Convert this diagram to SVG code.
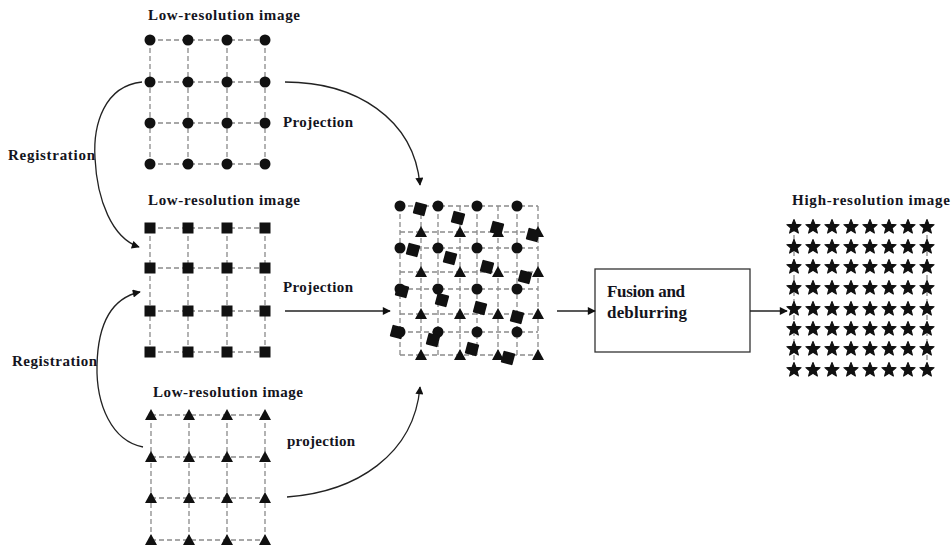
<svg xmlns="http://www.w3.org/2000/svg" xmlns:xlink="http://www.w3.org/1999/xlink" width="952" height="552" viewBox="0 0 952 552">
<style>
.t{font-family:"Liberation Serif","Times New Roman",serif;font-weight:bold;fill:#141420;}
.g{stroke:#8a8a8a;stroke-width:1.3;stroke-dasharray:5 3;fill:none;}
.c{stroke:#222;stroke-width:1.3;fill:none;}
.k{fill:#111;}
</style>
<defs>
<marker id="ah" viewBox="0 0 10 10" refX="9" refY="5" markerWidth="11" markerHeight="8" markerUnits="userSpaceOnUse" orient="auto"><path d="M0,0 L10,5 L0,10 Z" fill="#111"/></marker>
<circle id="dot" r="5.5" class="k"/>
<rect id="sq" x="-5.5" y="-5.5" width="11" height="11" class="k"/>
<rect id="rsq" x="-6" y="-6" width="12" height="12" rx="1" class="k" transform="rotate(15)"/>
<path id="tri" d="M0,-6 L6,5 L-6,5 Z" class="k"/>
<path id="star" d="M0,-7.5 L1.94,-2.67 L7.13,-2.32 L3.14,1.02 L4.41,6.07 L0,3.3 L-4.41,6.07 L-3.14,1.02 L-7.13,-2.32 L-1.94,-2.67 Z" fill="#111" stroke="#111" stroke-width="1.1" stroke-linejoin="round"/>
</defs>
<rect width="952" height="552" fill="#fff"/>

<g id="lr1">
<text class="t" x="224" y="20" font-size="15" text-anchor="middle" textLength="152">Low-resolution image</text>
<path class="g" d="M150,40H265M150,82H265M150,123H265M150,164H265M150,40V164M188,40V164M227,40V164M265,40V164"/>
<use xlink:href="#dot" x="150" y="40"/><use xlink:href="#dot" x="188" y="40"/><use xlink:href="#dot" x="227" y="40"/><use xlink:href="#dot" x="265" y="40"/>
<use xlink:href="#dot" x="150" y="82"/><use xlink:href="#dot" x="188" y="82"/><use xlink:href="#dot" x="227" y="82"/><use xlink:href="#dot" x="265" y="82"/>
<use xlink:href="#dot" x="150" y="123"/><use xlink:href="#dot" x="188" y="123"/><use xlink:href="#dot" x="227" y="123"/><use xlink:href="#dot" x="265" y="123"/>
<use xlink:href="#dot" x="150" y="164"/><use xlink:href="#dot" x="188" y="164"/><use xlink:href="#dot" x="227" y="164"/><use xlink:href="#dot" x="265" y="164"/>
</g>

<g id="lr2">
<text class="t" x="224" y="205" font-size="15" text-anchor="middle" textLength="152">Low-resolution image</text>
<path class="g" d="M150,228H265M150,268H265M150,311H265M150,352H265M150,228V352M188,228V352M227,228V352M265,228V352"/>
<use xlink:href="#sq" x="150" y="228"/><use xlink:href="#sq" x="188" y="228"/><use xlink:href="#sq" x="227" y="228"/><use xlink:href="#sq" x="265" y="228"/>
<use xlink:href="#sq" x="150" y="268"/><use xlink:href="#sq" x="188" y="268"/><use xlink:href="#sq" x="227" y="268"/><use xlink:href="#sq" x="265" y="268"/>
<use xlink:href="#sq" x="150" y="311"/><use xlink:href="#sq" x="188" y="311"/><use xlink:href="#sq" x="227" y="311"/><use xlink:href="#sq" x="265" y="311"/>
<use xlink:href="#sq" x="150" y="352"/><use xlink:href="#sq" x="188" y="352"/><use xlink:href="#sq" x="227" y="352"/><use xlink:href="#sq" x="265" y="352"/>
</g>

<g id="lr3">
<text class="t" x="228" y="397" font-size="15" text-anchor="middle" textLength="150">Low-resolution image</text>
<path class="g" d="M151,415H265M151,457H265M151,498H265M151,540H265M151,415V540M189,415V540M227,415V540M265,415V540"/>
<use xlink:href="#tri" x="151" y="415"/><use xlink:href="#tri" x="189" y="415"/><use xlink:href="#tri" x="227" y="415"/><use xlink:href="#tri" x="265" y="415"/>
<use xlink:href="#tri" x="151" y="457"/><use xlink:href="#tri" x="189" y="457"/><use xlink:href="#tri" x="227" y="457"/><use xlink:href="#tri" x="265" y="457"/>
<use xlink:href="#tri" x="151" y="498"/><use xlink:href="#tri" x="189" y="498"/><use xlink:href="#tri" x="227" y="498"/><use xlink:href="#tri" x="265" y="498"/>
<use xlink:href="#tri" x="151" y="540"/><use xlink:href="#tri" x="189" y="540"/><use xlink:href="#tri" x="227" y="540"/><use xlink:href="#tri" x="265" y="540"/>
</g>

<g id="merged">
<path class="g" d="M400,206H538M400,232H538M400,248H538M400,272H538M400,289H538M400,314H538M400,332H538M400,355H538M400,206V355M421,206V355M438,206V355M460,206V355M477,206V355M498,206V355M517,206V355M538,206V355"/>
<use xlink:href="#dot" x="400" y="206"/><use xlink:href="#dot" x="438" y="206"/><use xlink:href="#dot" x="477" y="206"/><use xlink:href="#dot" x="517" y="206"/>
<use xlink:href="#dot" x="400" y="248"/><use xlink:href="#dot" x="438" y="248"/><use xlink:href="#dot" x="477" y="248"/><use xlink:href="#dot" x="517" y="248"/>
<use xlink:href="#dot" x="400" y="289"/><use xlink:href="#dot" x="438" y="289"/><use xlink:href="#dot" x="477" y="289"/><use xlink:href="#dot" x="517" y="289"/>
<use xlink:href="#dot" x="400" y="332"/><use xlink:href="#dot" x="438" y="332"/><use xlink:href="#dot" x="477" y="332"/><use xlink:href="#dot" x="517" y="332"/>
<use xlink:href="#tri" x="421" y="232"/><use xlink:href="#tri" x="460" y="232"/><use xlink:href="#tri" x="498" y="232"/><use xlink:href="#tri" x="538" y="232"/>
<use xlink:href="#tri" x="421" y="272"/><use xlink:href="#tri" x="460" y="272"/><use xlink:href="#tri" x="498" y="272"/><use xlink:href="#tri" x="538" y="272"/>
<use xlink:href="#tri" x="421" y="314"/><use xlink:href="#tri" x="460" y="314"/><use xlink:href="#tri" x="498" y="314"/><use xlink:href="#tri" x="538" y="314"/>
<use xlink:href="#tri" x="421" y="355"/><use xlink:href="#tri" x="460" y="355"/><use xlink:href="#tri" x="498" y="355"/><use xlink:href="#tri" x="538" y="355"/>
<use xlink:href="#rsq" x="420" y="209"/><use xlink:href="#rsq" x="458" y="218"/><use xlink:href="#rsq" x="497" y="228"/><use xlink:href="#rsq" x="533" y="235"/>
<use xlink:href="#rsq" x="413" y="250"/><use xlink:href="#rsq" x="450" y="258"/><use xlink:href="#rsq" x="487" y="267"/><use xlink:href="#rsq" x="525" y="277"/>
<use xlink:href="#rsq" x="402" y="291"/><use xlink:href="#rsq" x="442" y="300"/><use xlink:href="#rsq" x="480" y="308"/><use xlink:href="#rsq" x="517" y="317"/>
<use xlink:href="#rsq" x="397" y="332"/><use xlink:href="#rsq" x="433" y="340"/><use xlink:href="#rsq" x="472" y="349"/><use xlink:href="#rsq" x="508" y="358"/>
</g>

<g id="fusion">
<rect x="595" y="269" width="155" height="83" fill="#fff" stroke="#333" stroke-width="1.3"/>
<text class="t" x="607" y="297" font-size="17" textLength="78">Fusion and</text>
<text class="t" x="607" y="318" font-size="17" textLength="80">deblurring</text>
</g>

<g id="hr">
<text class="t" x="871" y="205" font-size="15" text-anchor="middle" textLength="158">High-resolution image</text>
<path class="g" d="M794,227V370M927,227V370" stroke-width="1"/>
<g id="stars">
<use xlink:href="#star" x="794" y="227"/><use xlink:href="#star" x="813" y="227"/><use xlink:href="#star" x="832" y="227"/><use xlink:href="#star" x="851" y="227"/><use xlink:href="#star" x="870" y="227"/><use xlink:href="#star" x="889" y="227"/><use xlink:href="#star" x="908" y="227"/><use xlink:href="#star" x="927" y="227"/>
<use xlink:href="#star" x="794" y="247"/><use xlink:href="#star" x="813" y="247"/><use xlink:href="#star" x="832" y="247"/><use xlink:href="#star" x="851" y="247"/><use xlink:href="#star" x="870" y="247"/><use xlink:href="#star" x="889" y="247"/><use xlink:href="#star" x="908" y="247"/><use xlink:href="#star" x="927" y="247"/>
<use xlink:href="#star" x="794" y="267"/><use xlink:href="#star" x="813" y="267"/><use xlink:href="#star" x="832" y="267"/><use xlink:href="#star" x="851" y="267"/><use xlink:href="#star" x="870" y="267"/><use xlink:href="#star" x="889" y="267"/><use xlink:href="#star" x="908" y="267"/><use xlink:href="#star" x="927" y="267"/>
<use xlink:href="#star" x="794" y="288"/><use xlink:href="#star" x="813" y="288"/><use xlink:href="#star" x="832" y="288"/><use xlink:href="#star" x="851" y="288"/><use xlink:href="#star" x="870" y="288"/><use xlink:href="#star" x="889" y="288"/><use xlink:href="#star" x="908" y="288"/><use xlink:href="#star" x="927" y="288"/>
<use xlink:href="#star" x="794" y="309"/><use xlink:href="#star" x="813" y="309"/><use xlink:href="#star" x="832" y="309"/><use xlink:href="#star" x="851" y="309"/><use xlink:href="#star" x="870" y="309"/><use xlink:href="#star" x="889" y="309"/><use xlink:href="#star" x="908" y="309"/><use xlink:href="#star" x="927" y="309"/>
<use xlink:href="#star" x="794" y="329"/><use xlink:href="#star" x="813" y="329"/><use xlink:href="#star" x="832" y="329"/><use xlink:href="#star" x="851" y="329"/><use xlink:href="#star" x="870" y="329"/><use xlink:href="#star" x="889" y="329"/><use xlink:href="#star" x="908" y="329"/><use xlink:href="#star" x="927" y="329"/>
<use xlink:href="#star" x="794" y="349"/><use xlink:href="#star" x="813" y="349"/><use xlink:href="#star" x="832" y="349"/><use xlink:href="#star" x="851" y="349"/><use xlink:href="#star" x="870" y="349"/><use xlink:href="#star" x="889" y="349"/><use xlink:href="#star" x="908" y="349"/><use xlink:href="#star" x="927" y="349"/>
<use xlink:href="#star" x="794" y="370"/><use xlink:href="#star" x="813" y="370"/><use xlink:href="#star" x="832" y="370"/><use xlink:href="#star" x="851" y="370"/><use xlink:href="#star" x="870" y="370"/><use xlink:href="#star" x="889" y="370"/><use xlink:href="#star" x="908" y="370"/><use xlink:href="#star" x="927" y="370"/>
</g>
</g>

<g id="connectors">
<path class="c" d="M142,82 C104,86 93,125 95,158 C97,200 112,238 139,247" marker-end="url(#ah)"/>
<path class="c" d="M143,447 C112,441 96,405 97,365 C98,322 112,298 140,292" marker-end="url(#ah)"/>
<path class="c" d="M285,82 C355,82 414,118 420,185" marker-end="url(#ah)"/>
<path class="c" d="M285,311 L390,311" marker-end="url(#ah)"/>
<path class="c" d="M287,497 C356,492 414,455 420,387" marker-end="url(#ah)"/>
<path class="c" d="M557,311 L595,311" marker-end="url(#ah)"/>
<path class="c" d="M750,311 L787,311" marker-end="url(#ah)"/>
</g>

<g id="labels">
<text class="t" x="8" y="160" font-size="15" textLength="87">Registration</text>
<text class="t" x="12" y="366" font-size="15" textLength="85">Registration</text>
<text class="t" x="283" y="127" font-size="15" textLength="70">Projection</text>
<text class="t" x="283" y="292" font-size="15" textLength="70">Projection</text>
<text class="t" x="287" y="446" font-size="15" textLength="68">projection</text>
</g>
</svg>
